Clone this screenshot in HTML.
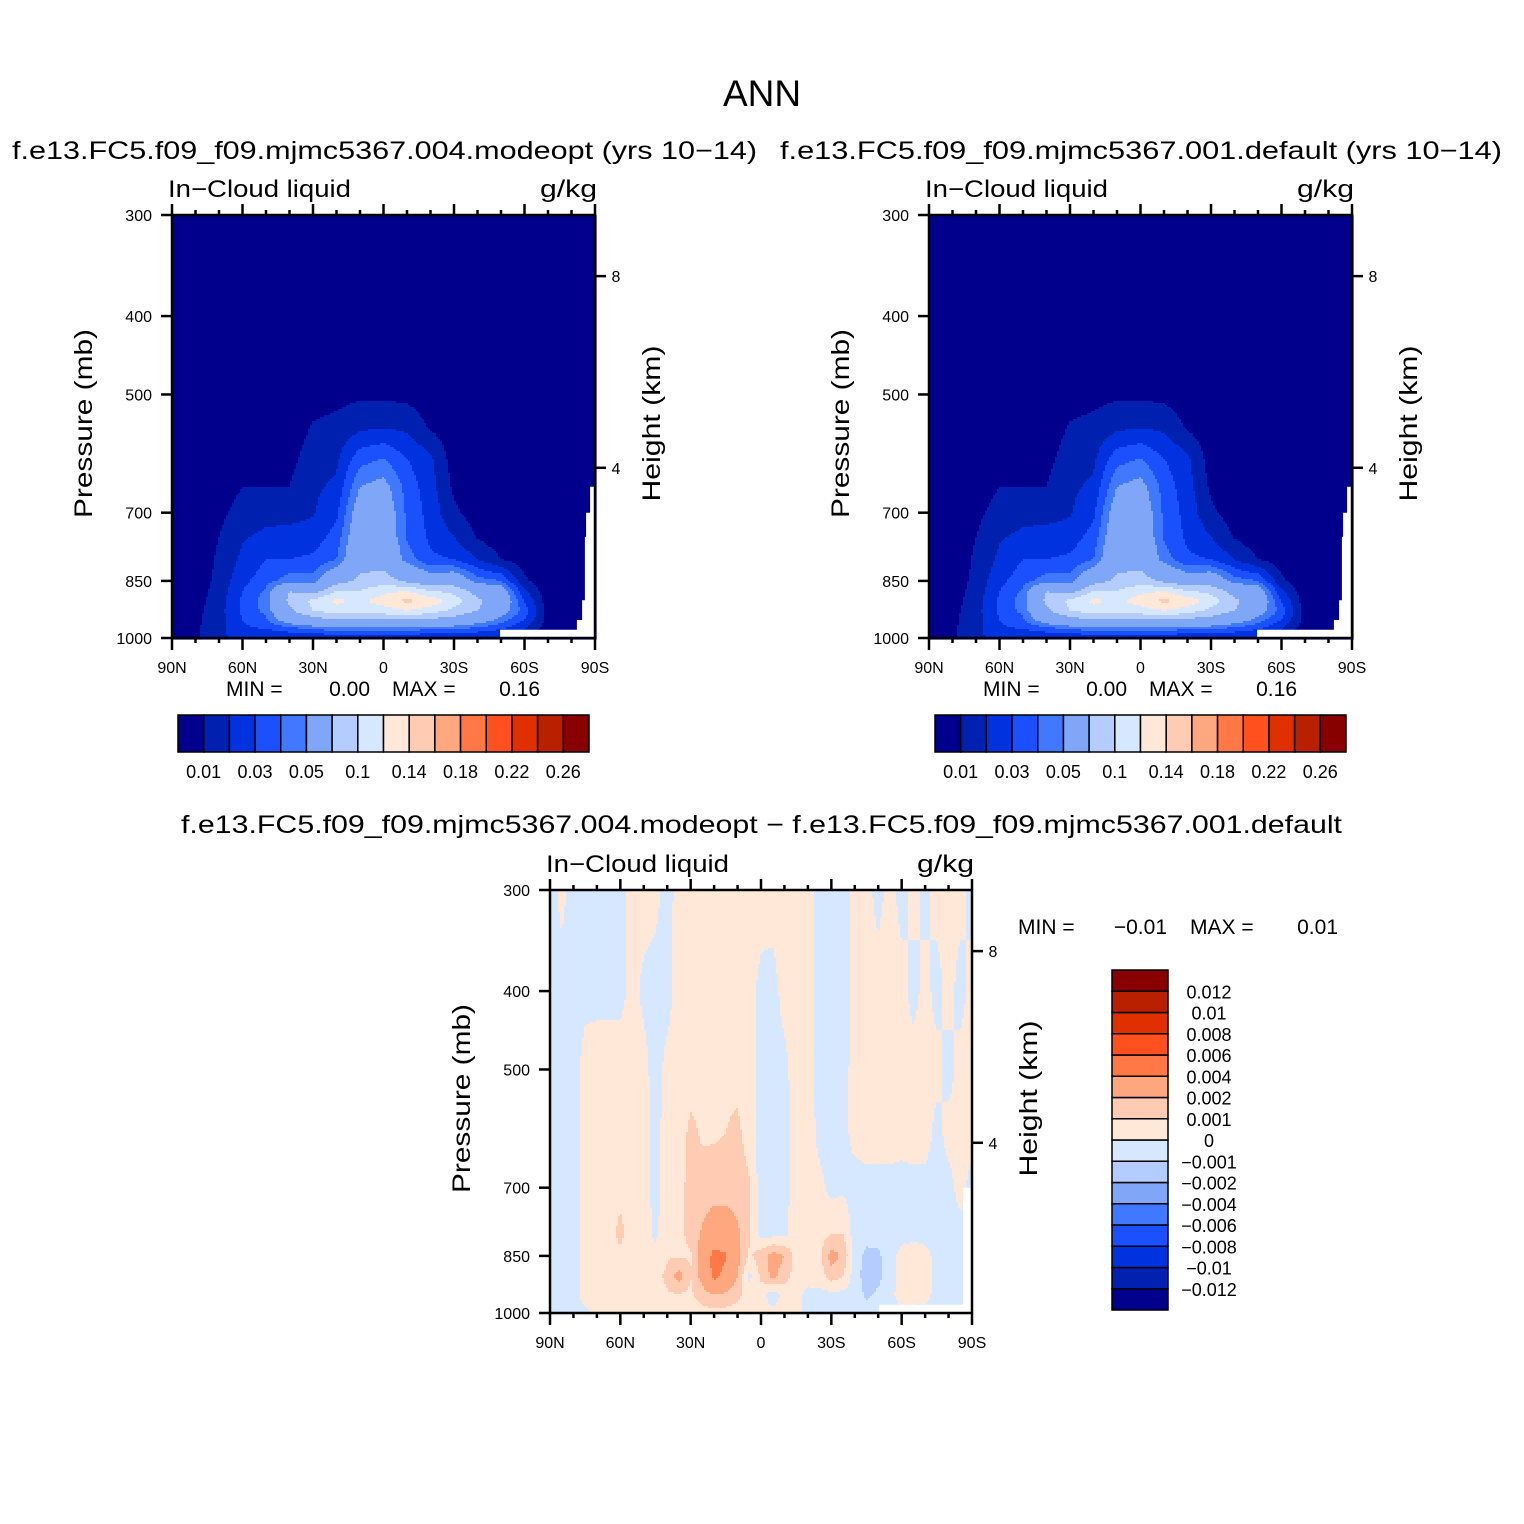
<!DOCTYPE html>
<html><head><meta charset="utf-8"><title>ANN In-Cloud liquid</title>
<style>
html,body{margin:0;padding:0;background:#fff;}
svg{display:block;font-family:"Liberation Sans",sans-serif;}
</style></head>
<body>
<svg id="chart" width="1524" height="1524" viewBox="0 0 1524 1524" xmlns="http://www.w3.org/2000/svg">
<rect x="0" y="0" width="1524" height="1524" fill="#fff"/>
<text x="762" y="106" font-size="37" text-anchor="middle">ANN</text>
<text x="12" y="159" font-size="25" textLength="745" lengthAdjust="spacingAndGlyphs">f.e13.FC5.f09_f09.mjmc5367.004.modeopt (yrs 10−14)</text>
<text x="780" y="159" font-size="25" textLength="722" lengthAdjust="spacingAndGlyphs">f.e13.FC5.f09_f09.mjmc5367.001.default (yrs 10−14)</text>
<text x="181" y="833" font-size="25" textLength="1161" lengthAdjust="spacingAndGlyphs">f.e13.FC5.f09_f09.mjmc5367.004.modeopt − f.e13.FC5.f09_f09.mjmc5367.001.default</text>
<g id="p1"></g>
<g id="p2"></g>
<g id="p3"></g>
</svg>
<script>
// ---------- data ----------
const latsCoarse = [90,80,70,60,50,40,30,20,10,0,-10,-20,-30,-40,-50,-60,-70,-80,-90];
const levelsMain = [300,400,450,500,550,600,650,700,750,800,850,875,900,925,950,975,1000];
const modeoptCols = [
[0,0,0,0,0,0,0,0,0,0,.002,.003,.004,.005,.005,.005,.005],
[0,0,0,0,0,0,0,0,.001,.002,.004,.005,.006,.007,.008,.008,.008],
[0,0,0,0,0,.001,.003,.007,.010,.012,.013,.014,.015,.016,.016,.017,.017],
[0,0,0,.001,.003,.006,.010,.015,.019,.022,.027,.030,.032,.032,.030,.028,.025],
[0,0,0,.002,.004,.007,.010,.017,.022,.030,.036,.042,.045,.043,.038,.030,.020],
[0,0,0,.002,.004,.007,.010,.016,.024,.030,.045,.080,.085,.075,.060,.035,.020],
[0,0,.002,.006,.011,.015,.018,.019,.025,.032,.045,.070,.105,.100,.070,.040,.020],
[0,0,.002,.007,.013,.018,.022,.028,.034,.040,.070,.100,.125,.110,.080,.045,.020],
[0,0,.002,.008,.018,.036,.050,.060,.065,.070,.085,.100,.115,.105,.080,.045,.022],
[0,0,.002,.008,.020,.040,.055,.062,.065,.070,.090,.115,.130,.110,.080,.045,.022],
[0,0,.002,.007,.018,.030,.036,.038,.039,.045,.075,.120,.145,.120,.080,.045,.020],
[0,0,.001,.004,.009,.022,.024,.026,.028,.032,.060,.100,.135,.110,.075,.040,.020],
[0,0,0,.001,.003,.005,.008,.012,.020,.030,.065,.095,.110,.095,.070,.040,.020],
[0,0,0,0,.001,.002,.003,.005,.009,.020,.045,.070,.085,.080,.060,.035,.020],
[0,0,0,0,0,.001,.001,.002,.004,.010,.040,.060,.065,.060,.045,.030,.020],
[0,0,0,0,0,0,0,.001,.002,.005,.012,.022,.030,.035,.030,.020,.015],
[0,0,0,0,0,0,0,0,0,.001,.002,.003,.004,.005,.006,.004,.003],
[0,0,0,0,0,0,0,0,0,0,0,0,0,0,0,0,0],
[0,0,0,0,0,0,0,0,0,0,0,0,0,0,0,0,0]];
const defaultCols = [
[0,0,0,0,0,0,0,0,0,0,.002,.003,.004,.005,.005,.005,.005],
[0,0,0,0,0,0,0,0,.001,.002,.004,.005,.006,.007,.008,.008,.008],
[0,0,0,0,0,.001,.003,.007,.010,.012,.013,.014,.015,.016,.016,.017,.017],
[0,0,0,.001,.003,.006,.010,.015,.019,.022,.027,.030,.032,.032,.030,.028,.025],
[0,0,0,.002,.004,.007,.010,.017,.022,.030,.036,.042,.045,.043,.038,.030,.020],
[0,0,0,.002,.004,.007,.010,.016,.024,.030,.045,.080,.085,.075,.060,.035,.020],
[0,0,.002,.006,.011,.015,.018,.019,.025,.032,.045,.070,.105,.100,.070,.040,.020],
[0,0,.002,.007,.013,.018,.022,.028,.034,.040,.070,.100,.125,.110,.080,.045,.020],
[0,0,.002,.008,.018,.036,.050,.060,.065,.070,.085,.100,.115,.105,.080,.045,.022],
[0,0,.002,.008,.020,.040,.055,.062,.065,.070,.090,.115,.130,.110,.080,.045,.022],
[0,0,.002,.007,.018,.030,.036,.038,.039,.045,.075,.120,.145,.120,.080,.045,.020],
[0,0,.001,.004,.009,.022,.024,.026,.028,.032,.060,.100,.135,.110,.075,.040,.020],
[0,0,0,.001,.003,.005,.008,.012,.020,.030,.065,.095,.110,.095,.070,.040,.020],
[0,0,0,0,.001,.002,.003,.005,.009,.020,.045,.070,.085,.080,.060,.035,.020],
[0,0,0,0,0,.001,.001,.002,.004,.010,.040,.060,.065,.060,.045,.030,.020],
[0,0,0,0,0,0,0,.001,.002,.005,.012,.022,.030,.035,.030,.020,.015],
[0,0,0,0,0,0,0,0,0,.001,.002,.003,.004,.005,.006,.004,.003],
[0,0,0,0,0,0,0,0,0,0,0,0,0,0,0,0,0],
[0,0,0,0,0,0,0,0,0,0,0,0,0,0,0,0,0]];
const mainLevels = [0.01,0.02,0.03,0.04,0.05,0.08,0.1,0.12,0.14,0.16,0.18,0.2,0.22,0.24,0.26];
const mainColors = ['#00008c','#0020b0','#0032e0','#1a50ff','#4078ff','#80a6f8','#b4ccff','#d6e8ff','#ffe8d8','#ffcbb2','#ffa880','#ff7846','#ff501e','#e03000','#b82000','#880000'];
const mainLabels = ['0.01','0.03','0.05','0.1','0.14','0.18','0.22','0.26'];
const mainLabelIdx = [1,3,5,7,9,11,13,15];
const mainMask = [[-49.6,1000],[-49.6,977],[-82.3,977],[-82.3,950],[-84.5,950],[-84.5,898],[-85.7,898],[-85.7,750],[-86.2,750],[-86.2,700],[-87.9,700],[-87.9,650],[-90,650],[-90,1000]];

const latsFine = [90,85,80,75,70,65,60,55,50,45,40,35,30,25,20,15,10,5,0,-5,-10,-15,-20,-25,-30,-35,-40,-45,-50,-55,-60,-65,-70,-75,-80,-85,-90];
const levelsDiff = [300,400,500,600,700,800,850,900,950,1000];
const DIFF_SCALE = 0.001;
const diffCols = [
[-.5,-.5,-.5,-.5,-.5,-.5,-.5,-.5,-.5,-.5],
[.3,-.4,-.5,-.5,-.5,-.5,-.4,-.4,-.4,-.3],
[-.5,-.5,-.5,-.5,-.5,-.5,-.5,-.4,-.3,-.3],
[-.4,-.3,.4,.5,.5,.5,.5,.4,.3,-.2],
[-.2,-.3,.5,.6,.6,.6,.6,.5,.4,.2],
[-.4,-.3,.5,.6,.7,.7,.7,.6,.5,.3],
[-.4,-.3,.5,.6,.8,1.2,.8,.6,.5,.3],
[.4,.3,.5,.6,.6,.6,.6,.5,.4,.3],
[.4,-.2,.3,.5,.5,.5,.5,.6,.5,.4],
[.3,-.4,-.4,-.4,-.4,-.2,.3,.7,.7,.5],
[-.4,-.4,.3,.5,.6,.7,.9,1.2,.9,.5],
[.4,.5,.5,.6,.7,.8,.9,2.5,.9,.4],
[.5,.5,.6,1.2,1.3,1.2,.9,1.0,.8,.5],
[.5,.6,.7,.9,1.3,2.2,2.8,2.5,1.5,.6],
[.5,.6,.7,.9,1.4,3.0,4.5,4.5,2.0,.7],
[.5,.6,.8,1.0,1.5,2.8,4.2,3.5,1.8,.6],
[.5,.6,.7,1.2,1.5,2.2,2.5,2.0,1.3,.5],
[.5,.4,.5,.6,1.1,1.2,.8,-.3,.5,.4],
[.5,-.3,-.5,-.5,-.5,-.3,1.5,1.2,.5,.3],
[.5,-.4,-.5,-.5,-.5,-.3,2.5,2.3,-.6,.3],
[.5,.4,-.3,-.4,-.4,-.2,2.0,1.5,.4,.3],
[.5,.5,.5,.5,.5,.5,.6,.5,.4,.3],
[.4,.4,.5,.5,.5,.5,.5,.4,-.3,-.3],
[-.3,-.4,-.4,-.3,.3,.6,.7,.5,-.3,-.4],
[-.5,-.5,-.5,-.5,-.3,1.0,2.5,1.5,-.3,-.4],
[-.5,-.5,-.4,-.3,-.2,1.0,1.8,1.0,-.3,-.4],
[.3,.3,.4,.3,-.4,-.5,-.5,-.5,-.4,-.4],
[.3,.4,.5,.4,-.3,-.6,-1.3,-1.5,-1.2,-.5],
[-.3,.4,.5,.4,-.3,-.6,-1.2,-1.3,-.8,-.4],
[.3,.4,.5,.4,-.3,-.4,-.4,-.4,-.3,-.3],
[-.3,.3,.4,.3,-.3,-.3,.3,.5,.4,-.3],
[.3,-.3,.4,.4,-.3,-.2,.4,.6,.4,-.3],
[-.3,.3,.3,.4,-.3,-.3,.3,.5,.3,-.3],
[.3,-.3,.3,-.3,-.3,-.3,-.3,-.3,-.3,-.3],
[.3,.3,-.3,.3,-.3,-.3,-.3,-.3,-.3,-.3],
[.3,-.3,.3,.3,.3,-.3,-.3,-.3,-.3,-.3],
[-.3,.3,.3,.3,-.3,-.3,-.3,-.3,-.3,-.3]];
const diffLevels = [-0.012,-0.01,-0.008,-0.006,-0.004,-0.002,-0.001,0,0.001,0.002,0.004,0.006,0.008,0.01,0.012];
const diffColors = ['#00008c','#0020b0','#0032e0','#1a50ff','#4078ff','#80a6f8','#b4ccff','#d6e8ff','#ffe8d8','#ffcbb2','#ffa880','#ff7846','#ff501e','#e03000','#b82000','#880000'];
const diffLabels = ['-0.012','-0.01','-0.008','-0.006','-0.004','-0.002','-0.001','0','0.001','0.002','0.004','0.006','0.008','0.01','0.012'];
const diffMask = [[-50.4,1000],[-50.4,977],[-86.2,977],[-86.2,700],[-90,700],[-90,1000]];

const pressureTicks = [300,400,500,700,850,1000];
const latTickLabels = ['90N','60N','30N','0','30S','60S','90S'];
const latTicks = [90,60,30,0,-30,-60,-90];
const heightTickKm = [8,4];
const heightTickP = [357,616];

// ---------- helpers ----------
const NS = 'http://www.w3.org/2000/svg';
const LNR = Math.log(1000/300);
function el(tag, attrs, parent){
  const e = document.createElementNS(NS, tag);
  for (const k in attrs) e.setAttribute(k, attrs[k]);
  parent.appendChild(e);
  return e;
}
function xOf(box, lat){ return box.x + (90 - lat) / 180 * box.w; }
function yOf(box, p){ return box.y + box.h - Math.log(1000/p) / LNR * box.h; }
function colorIdx(v, levels){ let i = 0; while (i < levels.length && v >= levels[i]) i++; return i; }
function sample(lats, levels, cols, lat, p, scale){
  const dl = lats[0] - lats[1];
  let fi = (lats[0] - lat) / dl; fi = Math.max(0, Math.min(lats.length - 1.0001, fi));
  const i0 = Math.floor(fi), tx = fi - i0;
  const lp = Math.log(p);
  let k = 0; while (k < levels.length - 2 && Math.log(levels[k+1]) < lp) k++;
  let ty = (lp - Math.log(levels[k])) / (Math.log(levels[k+1]) - Math.log(levels[k]));
  ty = Math.max(0, Math.min(1, ty));
  const a = cols[i0][k]*(1-ty) + cols[i0][k+1]*ty;
  const b = cols[i0+1][k]*(1-ty) + cols[i0+1][k+1]*ty;
  return (a*(1-tx) + b*tx) * scale;
}
function drawField(g, box, lats, levels, cols, scale, bounds, colors){
  const fg = el('g', {}, g);
  
  
  const step = 2;
  for (let yy = 0; yy < box.h; yy += step){
    const yc = box.y + yy + step/2;
    const p = 1000 * Math.exp(-(box.y + box.h - yc) / box.h * LNR);
    let runStart = 0, runC = -1;
    const n = Math.ceil(box.w / step);
    for (let j = 0; j <= n; j++){
      let c = -2;
      if (j < n){
        const xc = box.x + j*step + step/2;
        const lat = 90 - (xc - box.x) / box.w * 180;
        c = colorIdx(sample(lats, levels, cols, lat, p, scale), bounds);
      }
      if (c !== runC){
        if (runC >= 0){
          const r = el('rect', {x: box.x + runStart*step, y: box.y + yy, width: (j - runStart)*step + 0.6, height: step + 0.6, fill: colors[runC]}, fg);
          
          
        }
        runStart = j; runC = c;
      }
    }
  }
}
function drawMask(g, box, mask){
  const pts = mask.map(m => xOf(box, m[0]).toFixed(1) + ',' + Math.min(box.y+box.h, yOf(box, m[1])).toFixed(1)).join(' ');
  const m = el('polygon', {points: pts, fill: '#fff'}, g);
  
  
}
function txt(g, x, y, s, size, anchor, name, extra){
  const t = el('text', Object.assign({x: x, y: y, 'font-size': size, 'text-anchor': anchor || 'start'}, extra || {}), g);
  t.textContent = s;
  
  
  return t;
}
function drawAxes(g, box){
  const ag = el('g', {stroke: '#000', 'stroke-width': 2.5, fill: 'none'}, g);
  
  
  const fr = el('rect', {x: box.x, y: box.y, width: box.w, height: box.h}, ag);
  
  
  for (let lat = 90; lat >= -90; lat -= 10){
    const x = xOf(box, lat);
    const major = lat % 30 === 0;
    const t1 = el('line', {x1: x, x2: x, y1: box.y, y2: box.y - (major ? 11 : 5)}, ag);
    
    
    const t2 = el('line', {x1: x, x2: x, y1: box.y + box.h, y2: box.y + box.h + (major ? 12 : 5)}, ag);
    
    
  }
  pressureTicks.forEach(p => {
    const y = yOf(box, p);
    const t = el('line', {x1: box.x - 11, x2: box.x, y1: y, y2: y}, ag);
    
    
    txt(g, box.x - 20, y + 6, String(p), 16, 'end', 'pressure-tick-label');
  });
  heightTickKm.forEach((km, i) => {
    const y = yOf(box, heightTickP[i]);
    const t = el('line', {x1: box.x + box.w, x2: box.x + box.w + 11, y1: y, y2: y}, ag);
    
    
    txt(g, box.x + box.w + 21, y + 6, String(km), 16, 'middle', 'height-tick-label');
  });
  latTicks.forEach((lat, i) => {
    txt(g, xOf(box, lat), box.y + box.h + 35, latTickLabels[i], 16, 'middle', 'latitude-tick-label');
  });
  txt(g, box.x - 4, box.y - 18, 'In−Cloud liquid', 24, 'start', 'variable-label', {textLength: 183, lengthAdjust: 'spacingAndGlyphs'});
  txt(g, box.x + box.w + 2, box.y - 18, 'g/kg', 24, 'end', 'units-label', {textLength: 57, lengthAdjust: 'spacingAndGlyphs'});
  const cy = box.y + box.h/2 - 3;
  txt(g, box.x - 80, cy, 'Pressure (mb)', 25, 'middle', 'y-axis-title', {transform: 'rotate(-90 ' + (box.x - 80) + ' ' + cy + ')', textLength: 189, lengthAdjust: 'spacingAndGlyphs'});
  txt(g, box.x + box.w + 65, cy, 'Height (km)', 25, 'middle', 'right-axis-title', {transform: 'rotate(-90 ' + (box.x + box.w + 65) + ' ' + cy + ')', textLength: 156, lengthAdjust: 'spacingAndGlyphs'});
}
function drawMainPanel(g, box, cols){
  drawField(g, box, latsCoarse, levelsMain, cols, 1, mainLevels, mainColors);
  drawMask(g, box, mainMask);
  drawAxes(g, box);
  const dx = box.x - 172;
  txt(g, 226+dx, 696, 'MIN =', 21, 'start', 'min-label');
  txt(g, 370+dx, 696, '0.00', 21, 'end', 'min-value');
  txt(g, 392+dx, 696, 'MAX =', 21, 'start', 'max-label');
  txt(g, 540+dx, 696, '0.16', 21, 'end', 'max-value');
  const cb = el('g', {}, g);
  
  
  const cx = 178 + dx, bw = 411 / mainColors.length;
  mainColors.forEach((c, i) => {
    const r = el('rect', {x: cx + i*bw, y: 715, width: bw, height: 37, fill: c, stroke: '#000', 'stroke-width': 1.5}, cb);
    
    
  });
  mainLabels.forEach((s, i) => txt(cb, cx + mainLabelIdx[i]*bw, 778, s, 18, 'middle', 'colorbar-label'));
}

// ---------- panels ----------
const box1 = {x: 172, y: 215, w: 423, h: 423};
const box2 = {x: 929, y: 215, w: 423, h: 423};
const box3 = {x: 550, y: 890, w: 422, h: 423};
drawMainPanel(document.getElementById('p1'), box1, modeoptCols);
drawMainPanel(document.getElementById('p2'), box2, defaultCols);

const g3 = document.getElementById('p3');
drawField(g3, box3, latsFine, levelsDiff, diffCols, DIFF_SCALE, diffLevels, diffColors);
drawMask(g3, box3, diffMask);
drawAxes(g3, box3);
txt(g3, 1018, 934, 'MIN =', 21, 'start', 'min-label');
txt(g3, 1167, 934, '−0.01', 21, 'end', 'min-value');
txt(g3, 1190, 934, 'MAX =', 21, 'start', 'max-label');
txt(g3, 1338, 934, '0.01', 21, 'end', 'max-value');
const vcb = el('g', {}, g3);


const bh = 340 / diffColors.length;
diffColors.forEach((c, i) => {
  const r = el('rect', {x: 1112, y: 1310 - (i+1)*bh, width: 56, height: bh, fill: c, stroke: '#000', 'stroke-width': 1.5}, vcb);
  
  
});
diffLabels.forEach((s, i) => {
  txt(vcb, 1209, 1310 - (i+1)*bh + 7, s.replace('-', '−'), 18, 'middle', 'colorbar-label');
});
</script>
</body></html>
